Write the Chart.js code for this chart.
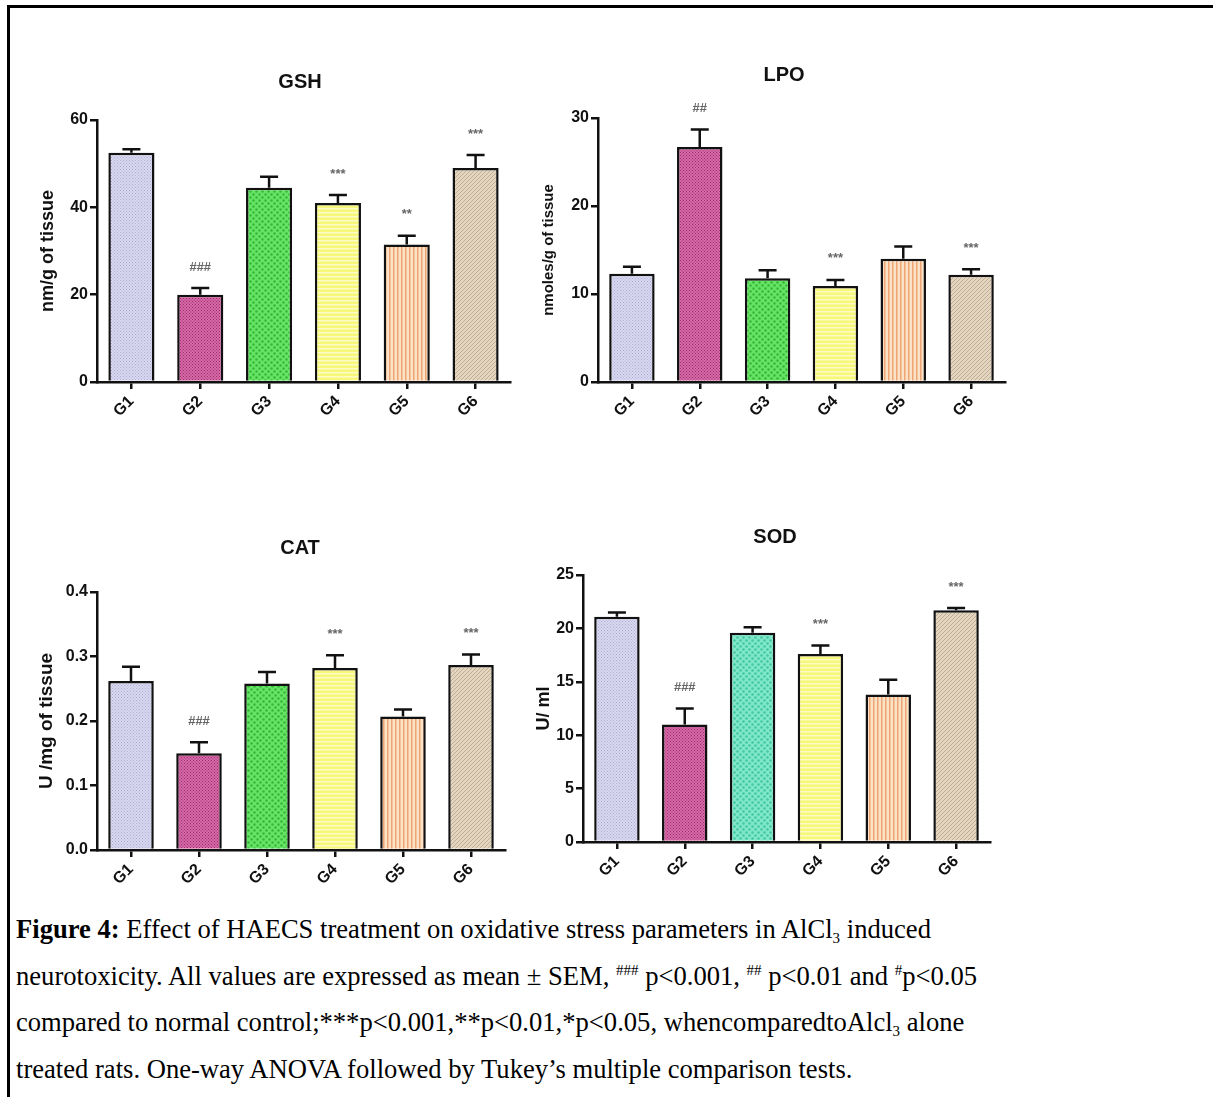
<!DOCTYPE html>
<html>
<head>
<meta charset="utf-8">
<script src="https://cdn.jsdelivr.net/npm/chart.js@4/dist/chart.umd.min.js"></script>
<style>
  html, body { margin: 0; padding: 0; background: #fff; }
  body { width: 1213px; height: 1097px; position: relative; overflow: hidden; }
  .frame { position: absolute; left: 7px; top: 5px; width: 1220px; height: 1200px;
           border-top: 3px solid #000; border-left: 3px solid #000; }
  .panel { position: absolute; }
  .caption { position: absolute; left: 16px; top: 906px; width: 1190px; white-space: nowrap;
             font-family: "Liberation Serif", "Times New Roman", serif; font-size: 26.6px;
             line-height: 46.5px; color: #000; }
  .caption sup { font-size: 15px; vertical-align: 10px; line-height: 0; }
  .caption sub { font-size: 15px; vertical-align: -5px; line-height: 0; }
</style>
</head>
<body>
<div class="frame"></div>
<div class="panel" id="p-gsh"><canvas id="gsh"></canvas></div>
<div class="panel" id="p-lpo"><canvas id="lpo"></canvas></div>
<div class="panel" id="p-cat"><canvas id="cat"></canvas></div>
<div class="panel" id="p-sod"><canvas id="sod"></canvas></div>
<div class="caption">
<b>Figure 4:</b> Effect of HAECS treatment on oxidative stress parameters in AlCl<sub>3</sub> induced<br>
neurotoxicity. All values are expressed as mean ± SEM, <sup>###</sup> p&lt;0.001, <sup>##</sup> p&lt;0.01 and <sup>#</sup>p&lt;0.05<br>
compared to normal control;***p&lt;0.001,**p&lt;0.01,*p&lt;0.05, whencomparedtoAlcl<sub>3</sub> alone<br>
treated rats. One-way ANOVA followed by Tukey’s multiple comparison tests.
</div>

<script>
const groups = ['G1', 'G2', 'G3', 'G4', 'G5', 'G6'];

const gshMean = [52.5, 20.0, 44.5, 41.0, 31.5, 49.0];
const gshSem = [0.8, 1.5, 2.5, 1.8, 2.0, 3.0];
const gshMarks = ['', '###', '', '***', '**', '***'];
const gshTicks = [0, 20, 40, 60];

const lpoMean = [12.3, 26.7, 11.8, 10.9, 14.0, 12.2];
const lpoSem = [0.8, 2.0, 0.9, 0.7, 1.4, 0.6];
const lpoMarks = ['', '##', '', '***', '', '***'];
const lpoTicks = [0, 10, 20, 30];

const catMean = [0.262, 0.150, 0.258, 0.282, 0.207, 0.287];
const catSem = [0.022, 0.017, 0.018, 0.020, 0.011, 0.016];
const catMarks = ['', '###', '', '***', '', '***'];
const catTicks = [0.0, 0.1, 0.2, 0.3, 0.4];

const sodMean = [21.1, 11.0, 19.6, 17.6, 13.8, 21.7];
const sodSem = [0.4, 1.5, 0.5, 0.8, 1.4, 0.2];
const sodMarks = ['', '###', '', '***', '', '***'];
const sodTicks = [0, 5, 10, 15, 20, 25];

const FONT = '"Liberation Sans", Arial, sans-serif';

// little pattern tiles that mimic the Prism fills
function makePattern(bg, fg, kind) {
    const c = document.createElement('canvas');
    const size = kind === 'bigdots' ? 6 : (kind === 'fine' ? 3 : 4);
    c.width = size; c.height = size;
    const g = c.getContext('2d');
    g.fillStyle = bg;
    g.fillRect(0, 0, size, size);
    g.fillStyle = fg;
    g.strokeStyle = fg;
    if (kind === 'fine') {
        g.fillRect(0, 0, 1, 1);
        g.fillRect(1.5, 1.5, 1, 1);
    } else if (kind === 'bigdots') {
        g.beginPath(); g.arc(1.5, 1.5, 1.3, 0, Math.PI * 2); g.fill();
        g.beginPath(); g.arc(4.5, 4.5, 1.3, 0, Math.PI * 2); g.fill();
    } else if (kind === 'hlines') {
        g.fillRect(0, 0, size, 1.5);
    } else if (kind === 'vlines') {
        g.fillRect(0, 0, 1.5, size);
    } else if (kind === 'diag') {
        g.lineWidth = 1;
        g.beginPath();
        g.moveTo(0, size); g.lineTo(size, 0);
        g.moveTo(-1, 1); g.lineTo(1, -1);
        g.moveTo(size - 1, size + 1); g.lineTo(size + 1, size - 1);
        g.stroke();
    }
    return g.createPattern(c, 'repeat');
}

function fills(thirdBg, thirdFg) {
    return [
        makePattern('#d8d8f0', '#aeaed4', 'fine'),
        makePattern('#d46aa8', '#a22a68', 'fine'),
        makePattern(thirdBg, thirdFg, 'bigdots'),
        makePattern('#f7f77a', '#fcfcc4', 'hlines'),
        makePattern('#fbe2c6', '#eea574', 'vlines'),
        makePattern('#e2d6c2', '#c2ad8e', 'diag')
    ];
}

// error bars (upper half only) and significance marks, placed through the scales
const semPlugin = {
    id: 'semBars',
    afterDatasetsDraw(chart) {
        const ds = chart.data.datasets[0];
        const meta = chart.getDatasetMeta(0);
        const y = chart.scales.y;
        const ctx = chart.ctx;
        ctx.save();
        meta.data.forEach((bar, i) => {
            const top = y.getPixelForValue(ds.data[i] + ds.sem[i]);
            const base = y.getPixelForValue(ds.data[i]);
            ctx.strokeStyle = '#111';
            ctx.lineWidth = 2.5;
            ctx.beginPath();
            ctx.moveTo(bar.x, base);
            ctx.lineTo(bar.x, top);
            ctx.moveTo(bar.x - 9, top);
            ctx.lineTo(bar.x + 9, top);
            ctx.stroke();
            if (ds.marks[i]) {
                ctx.fillStyle = '#666';
                ctx.font = 'bold 13px ' + FONT;
                ctx.textAlign = 'center';
                ctx.textBaseline = 'middle';
                ctx.fillText(ds.marks[i], bar.x, top - 21);
            }
        });
        ctx.restore();
    }
};

function drawPanel(id, cfg) {
    const box = document.getElementById('p-' + id);
    const left = cfg.canvas[0], top = cfg.canvas[1], w = cfg.canvas[2], h = cfg.canvas[3];
    box.style.left = left + 'px';
    box.style.top = top + 'px';
    box.style.width = w + 'px';
    box.style.height = h + 'px';
    const a = cfg.area;

    // panel heading, centred where the original puts it
    const headPlugin = {
        id: 'head',
        afterDraw(chart) {
            const ctx = chart.ctx;
            ctx.save();
            ctx.fillStyle = '#111';
            ctx.font = 'bold 20px ' + FONT;
            ctx.textAlign = 'center';
            ctx.textBaseline = 'middle';
            ctx.fillText(cfg.title, cfg.titleAt[0] - left, cfg.titleAt[1] - top);
            ctx.restore();
        }
    };

    new Chart(document.getElementById(id), {
        type: 'bar',
        data: {
            labels: groups,
            datasets: [{
                data: cfg.mean,
                sem: cfg.sem,
                marks: cfg.marks,
                backgroundColor: cfg.fill,
                borderColor: '#111',
                borderWidth: 2.5,
                borderSkipped: 'bottom',
                barPercentage: 0.67,
                categoryPercentage: 1.0
            }]
        },
        options: {
            responsive: true,
            maintainAspectRatio: false,
            animation: false,
            layout: { padding: { left: 0, right: left + w - a.r, top: a.t - top, bottom: 0 } },
            plugins: {
                legend: { display: false },
                tooltip: { enabled: false },
                title: { display: false }
            },
            scales: {
                x: {
                    offset: true,
                    grid: { display: true, offset: false, drawOnChartArea: false, tickLength: 7, color: '#111', lineWidth: 2.5 },
                    border: { color: '#111', width: 2.5 },
                    ticks: { color: '#111', maxRotation: 45, minRotation: 45, padding: 3,
                             font: { family: FONT, size: 16, weight: 'bold' } },
                    afterFit: s => { s.height = top + h - a.b; }
                },
                y: {
                    min: cfg.ticks[0],
                    max: cfg.ticks[cfg.ticks.length - 1],
                    afterBuildTicks: s => { s.ticks = cfg.ticks.map(v => ({ value: v })); },
                    grid: { display: true, drawOnChartArea: false, tickLength: 7, color: '#111', lineWidth: 2.5 },
                    border: { color: '#111', width: 2.5 },
                    ticks: { color: '#111', padding: 2,
                             font: { family: FONT, size: 16, weight: 'bold' },
                             callback: cfg.fmt },
                    title: { display: true, text: cfg.yTitle, color: '#111',
                             font: { family: FONT, size: cfg.yTitleSize, weight: 'bold' },
                             padding: { top: 4, bottom: 4 } },
                    afterFit: s => { s.width = a.l - left; }
                }
            }
        },
        plugins: [semPlugin, headPlugin]
    });
}

drawPanel('gsh', {
    canvas: [33, 40, 534, 395], area: { l: 97, t: 120, r: 510, b: 382 }, titleAt: [300, 82],
    title: 'GSH', yTitle: 'nm/g of tissue', yTitleSize: 18,
    mean: gshMean, sem: gshSem, marks: gshMarks, ticks: gshTicks,
    fmt: v => v, fill: fills('#66e466', '#36b836')
});

drawPanel('lpo', {
    canvas: [536, 35, 496, 400], area: { l: 598, t: 118, r: 1005, b: 382 }, titleAt: [784, 75],
    title: 'LPO', yTitle: 'nmoles/g of tissue', yTitleSize: 15,
    mean: lpoMean, sem: lpoSem, marks: lpoMarks, ticks: lpoTicks,
    fmt: v => v, fill: fills('#66e466', '#36b836')
});

drawPanel('cat', {
    canvas: [31, 505, 538, 398], area: { l: 97, t: 592, r: 505, b: 850 }, titleAt: [300, 548],
    title: 'CAT', yTitle: 'U /mg of tissue', yTitleSize: 19,
    mean: catMean, sem: catSem, marks: catMarks, ticks: catTicks,
    fmt: v => Number(v).toFixed(1), fill: fills('#66e466', '#36b836')
});

drawPanel('sod', {
    canvas: [529, 495, 492, 400], area: { l: 583, t: 575, r: 990, b: 842 }, titleAt: [775, 537],
    title: 'SOD', yTitle: 'U/ ml', yTitleSize: 18,
    mean: sodMean, sem: sodSem, marks: sodMarks, ticks: sodTicks,
    fmt: v => v, fill: fills('#80e8c8', '#40c8a2')
});
</script>
</body>
</html>
